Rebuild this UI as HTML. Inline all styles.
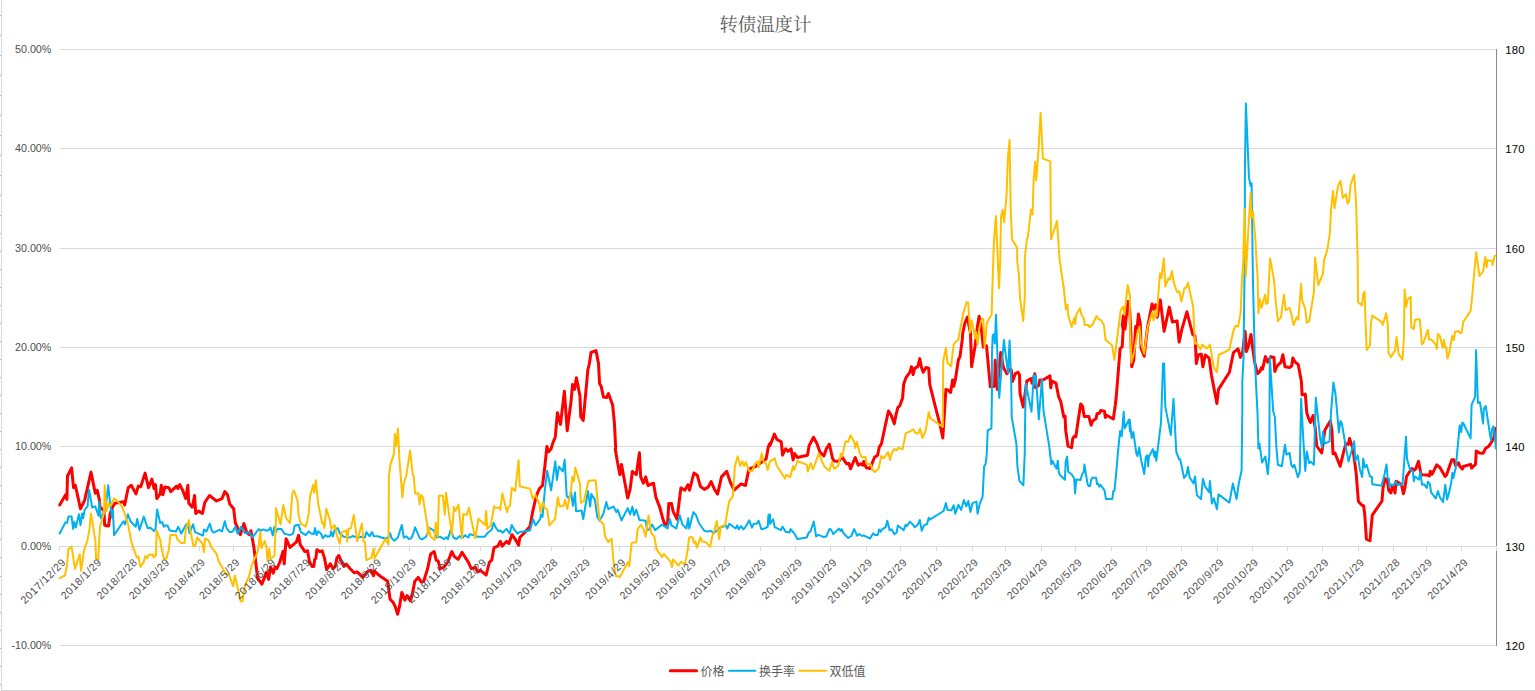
<!DOCTYPE html><html><head><meta charset="utf-8"><title>chart</title><style>
html,body{margin:0;padding:0;background:#fff;}body{width:1535px;height:691px;overflow:hidden;position:relative;font-family:"Liberation Sans",sans-serif;}
svg{position:absolute;left:0;top:0;display:block}text{font-family:"Liberation Sans",sans-serif;}
</style></head><body>
<svg width="1535" height="691" viewBox="0 0 1535 691">
<rect width="1535" height="691" fill="#fff"/>
<g id="edges"><rect x="1" y="0" width="1" height="691" fill="#D6D6DC"/><rect x="0" y="15" width="1" height="1" fill="#B4BCE8"/><rect x="0" y="35" width="1" height="1" fill="#B4BCE8"/><rect x="0" y="55" width="1" height="1" fill="#B4BCE8"/><rect x="0" y="75" width="1" height="1" fill="#B4BCE8"/><rect x="0" y="95" width="1" height="1" fill="#B4BCE8"/><rect x="0" y="115" width="1" height="1" fill="#B4BCE8"/><rect x="0" y="135" width="1" height="1" fill="#B4BCE8"/><rect x="0" y="155" width="1" height="1" fill="#B4BCE8"/><rect x="0" y="175" width="1" height="1" fill="#B4BCE8"/><rect x="0" y="195" width="1" height="1" fill="#B4BCE8"/><rect x="0" y="215" width="1" height="1" fill="#B4BCE8"/><rect x="0" y="233" width="1" height="1" fill="#B4BCE8"/><rect x="0" y="251" width="1" height="1" fill="#B4BCE8"/><rect x="0" y="269" width="1" height="1" fill="#B4BCE8"/><rect x="0" y="287" width="1" height="1" fill="#B4BCE8"/><rect x="0" y="305" width="1" height="1" fill="#B4BCE8"/><rect x="0" y="323" width="1" height="1" fill="#B4BCE8"/><rect x="0" y="341" width="1" height="1" fill="#B4BCE8"/><rect x="0" y="359" width="1" height="1" fill="#B4BCE8"/><rect x="0" y="377" width="1" height="1" fill="#B4BCE8"/><rect x="0" y="395" width="1" height="1" fill="#B4BCE8"/><rect x="0" y="413" width="1" height="1" fill="#B4BCE8"/><rect x="0" y="431" width="1" height="1" fill="#B4BCE8"/><rect x="0" y="449" width="1" height="1" fill="#B4BCE8"/><rect x="0" y="467" width="1" height="1" fill="#B4BCE8"/><rect x="0" y="485" width="1" height="1" fill="#B4BCE8"/><rect x="0" y="503" width="1" height="1" fill="#B4BCE8"/><rect x="0" y="521" width="1" height="1" fill="#B4BCE8"/><rect x="0" y="539" width="1" height="1" fill="#B4BCE8"/><rect x="0" y="557" width="1" height="1" fill="#B4BCE8"/><rect x="0" y="576" width="1" height="1" fill="#B4BCE8"/><rect x="0" y="594" width="1" height="1" fill="#B4BCE8"/><rect x="0" y="612" width="1" height="1" fill="#B4BCE8"/><rect x="0" y="630" width="1" height="1" fill="#B4BCE8"/><rect x="0" y="648" width="1" height="1" fill="#B4BCE8"/><rect x="0" y="666" width="1" height="1" fill="#B4BCE8"/><rect x="0" y="684" width="1" height="1" fill="#B4BCE8"/><rect x="1" y="690" width="1534" height="1" fill="#D4D4D4"/></g>
<g stroke="#D9D9D9" stroke-width="1" fill="none">
<path d="M59.5 49.5H1496.5"/>
<path d="M59.5 148.5H1496.5"/>
<path d="M59.5 248.5H1496.5"/>
<path d="M59.5 347.5H1496.5"/>
<path d="M59.5 446.5H1496.5"/>
<path d="M59.5 546.5H1496.5"/>
<path d="M59.5 645.5H1496.5"/>
<path d="M59.5 546.0v5"/>
<path d="M95.5 546.0v5"/>
<path d="M131.5 546.0v5"/>
<path d="M163.5 546.0v5"/>
<path d="M199.5 546.0v5"/>
<path d="M233.5 546.0v5"/>
<path d="M269.5 546.0v5"/>
<path d="M303.5 546.0v5"/>
<path d="M339.5 546.0v5"/>
<path d="M375.5 546.0v5"/>
<path d="M409.5 546.0v5"/>
<path d="M445.5 546.0v5"/>
<path d="M480.5 546.0v5"/>
<path d="M515.5 546.0v5"/>
<path d="M551.5 546.0v5"/>
<path d="M583.5 546.0v5"/>
<path d="M619.5 546.0v5"/>
<path d="M654.5 546.0v5"/>
<path d="M689.5 546.0v5"/>
<path d="M724.5 546.0v5"/>
<path d="M760.5 546.0v5"/>
<path d="M795.5 546.0v5"/>
<path d="M830.5 546.0v5"/>
<path d="M866.5 546.0v5"/>
<path d="M900.5 546.0v5"/>
<path d="M936.5 546.0v5"/>
<path d="M972.5 546.0v5"/>
<path d="M1005.5 546.0v5"/>
<path d="M1041.5 546.0v5"/>
<path d="M1075.5 546.0v5"/>
<path d="M1111.5 546.0v5"/>
<path d="M1146.5 546.0v5"/>
<path d="M1181.5 546.0v5"/>
<path d="M1217.5 546.0v5"/>
<path d="M1252.5 546.0v5"/>
<path d="M1287.5 546.0v5"/>
<path d="M1322.5 546.0v5"/>
<path d="M1358.5 546.0v5"/>
<path d="M1393.5 546.0v5"/>
<path d="M1426.5 546.0v5"/>
<path d="M1461.5 546.0v5"/>
</g>
<g font-size="10.70" fill="#4d4d4d" text-anchor="end">
<text x="51.3" y="52.7">50.00%</text>
<text x="51.3" y="151.7">40.00%</text>
<text x="51.3" y="251.7">30.00%</text>
<text x="51.3" y="350.7">20.00%</text>
<text x="51.3" y="449.7">10.00%</text>
<text x="51.3" y="549.7">0.00%</text>
<text x="51.3" y="648.7">-10.00%</text>
</g>
<g font-size="11.3" fill="#000" text-anchor="start" letter-spacing="0.3">
<text x="1505.2" y="53.6">180</text>
<text x="1505.2" y="152.6">170</text>
<text x="1505.2" y="252.6">160</text>
<text x="1505.2" y="351.6">150</text>
<text x="1505.2" y="450.6">140</text>
<text x="1505.2" y="550.6">130</text>
<text x="1505.2" y="649.6">120</text>
</g>
<clipPath id="pc"><rect x="57.5" y="40" width="1439.0" height="612"/></clipPath>
<g fill="none" stroke-linejoin="round" stroke-linecap="round" clip-path="url(#pc)">
<path d="M59.7 504.9 L65.6 494.7 L66.9 499.4 L67.5 476.0 L71.6 467.8 L73.5 487.7 L75.3 485.3 L80.5 508.8 L84.7 500.2 L91.0 472.1 L95.3 493.2 L97.2 490.3 L99.3 499.4 L100.0 507.2 L103.9 510.4 L104.7 525.2 L108.6 526.0 L110.2 513.5 L112.5 507.2 L114.9 503.3 L123.5 501.8 L124.7 504.9 L128.2 487.7 L131.3 485.3 L136.0 493.9 L138.3 486.1 L140.7 486.9 L145.1 473.1 L148.5 487.7 L151.9 479.1 L154.0 488.5 L155.5 484.6 L156.8 498.6 L160.2 493.9 L161.3 485.3 L162.9 494.7 L164.9 486.9 L168.8 487.7 L170.7 491.6 L176.6 486.1 L177.9 488.5 L179.8 484.6 L182.9 490.8 L185.7 498.6 L187.9 485.3 L188.8 503.3 L192.3 507.2 L194.6 495.5 L195.7 513.5 L198.5 511.1 L202.4 513.5 L204.8 502.5 L209.5 495.5 L216.5 501.0 L222.0 498.6 L224.8 491.6 L227.5 494.7 L229.8 504.1 L233.7 508.8 L235.3 522.9 L237.6 527.6 L240.4 534.6 L243.9 523.6 L246.7 532.2 L249.3 534.6 L250.9 530.7 L254.0 548.1 L256.1 565.3 L257.6 577.9 L261.9 584.1 L266.5 572.4 L268.6 579.4 L270.5 566.9 L273.3 573.2 L275.1 566.9 L277.0 568.5 L279.8 562.2 L283.0 551.3 L284.2 563.8 L286.1 538.8 L290.0 547.4 L296.3 542.2 L298.6 535.2 L300.2 544.6 L304.9 551.6 L307.5 550.8 L309.5 561.8 L311.9 566.4 L313.8 566.4 L314.7 559.4 L315.8 558.6 L316.9 549.7 L319.7 551.6 L322.1 550.8 L324.4 557.9 L326.7 569.6 L330.3 563.8 L333.0 568.8 L335.3 566.4 L336.9 557.9 L338.8 555.5 L340.8 560.2 L343.9 566.4 L346.3 564.1 L350.2 568.8 L354.1 572.7 L357.2 571.9 L362.7 577.4 L368.2 571.1 L371.3 570.4 L373.6 575.8 L374.4 571.1 L380.7 576.6 L387.7 581.3 L388.8 589.9 L390.1 599.3 L393.2 602.5 L395.5 607.2 L397.6 614.3 L399.4 607.2 L401.8 592.4 L404.9 600.2 L407.0 595.5 L410.4 601.0 L412.7 592.2 L414.8 581.3 L418.2 577.4 L421.3 582.1 L423.7 581.3 L427.6 568.8 L430.7 553.9 L434.2 551.6 L436.2 560.2 L438.2 561.0 L440.1 568.8 L444.0 567.2 L447.9 561.8 L451.8 551.6 L454.2 556.3 L458.1 559.4 L462.0 552.4 L468.2 561.8 L471.4 568.8 L475.3 567.2 L477.6 571.9 L480.4 570.4 L486.2 575.0 L489.3 562.5 L491.7 560.2 L494.0 547.7 L497.9 546.1 L500.3 541.4 L502.3 546.1 L506.5 541.4 L508.9 543.5 L512.0 534.7 L515.1 539.1 L518.6 545.3 L519.8 537.5 L524.5 532.8 L530.0 526.6 L532.8 511.3 L534.7 502.7 L537.0 494.1 L539.4 488.6 L542.5 485.5 L544.9 466.0 L546.9 446.4 L548.4 451.9 L551.1 448.8 L552.7 443.3 L555.3 437.0 L557.4 412.7 L560.5 424.4 L564.4 391.3 L567.2 430.7 L571.0 401.8 L572.5 384.6 L574.6 389.3 L576.4 377.8 L580.0 396.3 L580.8 416.6 L583.2 420.5 L587.9 369.7 L589.4 363.5 L591.0 352.5 L596.0 350.6 L598.5 363.5 L599.6 383.8 L601.1 386.1 L603.5 397.1 L606.6 397.5 L608.5 393.5 L612.6 404.9 L614.4 422.9 L615.7 447.9 L615.2 448.8 L617.6 462.8 L619.9 474.6 L621.5 464.4 L623.8 476.9 L627.7 498.0 L630.1 489.4 L632.4 471.4 L636.3 474.6 L639.4 452.7 L640.7 476.9 L643.4 483.2 L645.7 476.9 L648.0 485.5 L653.5 483.2 L655.9 497.2 L659.8 507.4 L662.9 519.1 L665.2 525.4 L667.6 523.0 L668.8 503.5 L671.5 503.5 L673.1 511.3 L677.0 519.1 L680.9 487.9 L684.8 490.2 L687.9 484.7 L689.5 490.2 L693.9 473.0 L697.3 475.3 L700.4 486.3 L704.3 489.4 L708.2 487.1 L711.1 481.6 L714.5 489.4 L717.6 494.1 L721.5 476.9 L726.7 471.4 L730.1 481.6 L734.0 490.2 L741.1 483.9 L745.5 485.5 L748.9 469.1 L755.1 466.7 L763.0 461.3 L766.1 458.9 L768.4 446.4 L770.0 443.3 L770.0 445.8 L774.4 434.1 L777.0 439.5 L781.3 441.9 L782.5 455.2 L785.6 448.9 L788.0 451.3 L791.1 448.9 L793.1 459.9 L794.7 453.6 L797.4 457.5 L807.5 455.2 L809.1 445.8 L813.5 437.2 L816.9 443.5 L820.0 452.1 L823.9 456.0 L826.3 448.9 L829.4 444.2 L832.5 458.3 L834.1 461.0 L838.8 461.4 L841.9 456.7 L846.6 463.8 L849.0 463.5 L850.5 468.8 L855.2 457.5 L858.3 465.3 L860.7 463.8 L863.0 465.3 L863.8 461.4 L866.2 467.7 L870.1 468.5 L874.4 457.5 L877.6 455.2 L879.4 446.6 L881.3 444.2 L886.5 420.0 L888.5 411.0 L891.2 415.2 L894.3 423.8 L895.9 415.2 L897.9 407.4 L899.8 405.8 L902.6 398.0 L903.7 383.9 L906.0 377.7 L909.9 372.2 L911.5 366.7 L913.1 374.6 L914.6 368.3 L917.8 366.7 L919.8 358.6 L921.3 366.7 L923.2 372.2 L926.0 367.5 L928.7 368.3 L929.8 384.7 L935.7 408.2 L940.4 426.2 L942.8 438.0 L945.9 389.4 L948.2 390.2 L950.6 392.5 L952.6 380.0 L953.7 386.3 L955.3 380.0 L958.4 359.7 L960.0 356.6 L962.3 339.4 L962.7 333.5 L965.0 322.5 L967.4 317.1 L969.0 325.7 L970.5 332.7 L971.6 366.8 L975.2 345.2 L977.6 325.7 L979.1 316.3 L980.7 322.5 L983.3 347.2 L986.5 345.7 L990.3 386.8 L994.5 386.3 L995.2 360.2 L997.3 389.4 L1000.7 352.4 L1003.4 367.5 L1007.0 373.8 L1009.6 369.1 L1011.2 369.6 L1012.5 381.6 L1015.3 373.8 L1017.9 372.2 L1019.5 374.8 L1020.0 393.6 L1023.2 407.0 L1026.8 381.1 L1031.0 378.5 L1032.0 383.2 L1034.8 373.8 L1035.5 387.8 L1038.8 385.2 L1039.8 380.0 L1043.0 380.0 L1050.0 375.9 L1050.8 387.8 L1051.8 381.1 L1056.0 383.2 L1058.6 396.7 L1060.7 401.3 L1063.8 416.9 L1065.1 416.4 L1065.7 430.4 L1068.0 446.1 L1071.6 447.6 L1072.7 438.8 L1074.2 436.2 L1075.8 436.7 L1078.4 419.0 L1080.7 403.9 L1082.6 406.5 L1084.1 416.4 L1088.8 416.4 L1091.1 425.2 L1092.5 421.1 L1096.1 418.5 L1097.0 413.8 L1099.3 413.2 L1100.8 410.6 L1104.5 411.2 L1105.3 417.4 L1106.5 415.3 L1113.3 419.0 L1115.4 404.4 L1116.4 395.0 L1120.1 348.8 L1122.2 346.7 L1123.2 330.0 L1122.3 325.0 L1123.4 315.7 L1125.0 329.0 L1127.8 301.6 L1129.7 309.4 L1130.9 334.4 L1131.7 366.7 L1133.8 359.7 L1135.6 326.6 L1137.2 328.2 L1138.4 314.1 L1140.3 323.5 L1141.1 348.5 L1144.2 356.3 L1147.4 328.2 L1152.1 303.9 L1154.1 309.4 L1155.6 304.7 L1157.2 317.2 L1160.3 300.0 L1164.1 331.3 L1169.3 307.1 L1172.4 321.9 L1177.1 321.1 L1179.1 342.2 L1181.8 329.7 L1186.9 311.8 L1192.7 334.4 L1195.0 336.0 L1195.8 351.6 L1196.3 363.6 L1198.2 355.0 L1201.3 354.2 L1202.9 366.7 L1205.2 355.0 L1209.1 358.1 L1211.5 375.3 L1216.9 403.5 L1218.5 389.4 L1229.4 372.2 L1233.4 352.7 L1238.0 348.8 L1240.4 357.4 L1242.7 351.9 L1245.1 331.3 L1246.3 351.6 L1248.2 346.9 L1251.0 334.4 L1252.9 350.0 L1254.8 362.8 L1257.6 373.8 L1259.9 371.4 L1261.5 367.5 L1262.6 369.1 L1265.4 356.6 L1267.8 362.1 L1270.9 356.6 L1274.0 357.4 L1274.8 371.4 L1277.1 366.0 L1281.0 362.1 L1282.9 354.7 L1285.0 366.7 L1289.6 367.5 L1291.7 366.0 L1292.8 358.1 L1295.1 362.1 L1298.2 364.4 L1301.4 381.6 L1302.1 394.9 L1305.3 394.1 L1306.8 412.9 L1308.4 417.8 L1310.4 422.5 L1313.1 415.5 L1315.1 427.2 L1316.7 446.0 L1321.7 453.0 L1324.8 430.3 L1330.3 420.9 L1331.9 430.3 L1333.0 453.8 L1335.0 453.0 L1340.1 466.3 L1343.6 452.2 L1345.9 443.6 L1348.3 444.4 L1349.5 438.5 L1353.0 449.1 L1356.1 472.5 L1358.4 501.5 L1361.7 505.1 L1363.6 505.7 L1364.8 515.0 L1366.4 539.1 L1370.0 540.7 L1371.1 528.1 L1372.3 515.1 L1382.0 501.0 L1383.0 487.9 L1385.1 478.6 L1387.2 479.6 L1388.8 490.5 L1390.9 492.9 L1392.4 486.4 L1394.0 487.4 L1395.0 493.1 L1396.1 481.2 L1401.3 484.3 L1402.1 487.4 L1403.4 493.7 L1404.9 487.9 L1406.5 476.5 L1408.6 473.3 L1411.7 468.6 L1414.3 470.1 L1415.9 468.6 L1418.5 461.3 L1421.1 474.8 L1427.3 475.0 L1429.4 475.9 L1430.3 471.2 L1432.0 474.3 L1436.7 464.9 L1439.9 467.5 L1445.1 476.4 L1446.6 474.8 L1451.8 459.7 L1453.9 459.7 L1455.5 465.5 L1458.6 462.9 L1459.7 466.0 L1462.3 469.1 L1463.3 466.5 L1470.6 464.4 L1471.6 468.1 L1475.5 464.4 L1476.3 450.9 L1479.5 452.9 L1483.1 453.2 L1485.7 448.3 L1488.8 446.2 L1492.0 441.5 L1494.3 436.3 L1495.1 428.5 L1495.9 436.3" stroke="#FF0000" stroke-width="3"/>
<path d="M59.7 533.5 L65.6 522.1 L67.2 522.9 L68.4 516.6 L71.6 516.6 L73.1 528.8 L74.2 522.1 L75.8 527.6 L78.9 514.3 L80.5 525.2 L82.1 513.5 L83.1 518.2 L84.7 509.6 L87.5 506.4 L89.1 489.7 L92.2 507.5 L95.3 506.4 L98.5 515.8 L99.3 501.8 L100.8 518.2 L103.9 513.5 L106.3 502.5 L108.2 485.3 L110.2 504.1 L112.2 518.2 L112.9 510.4 L114.1 535.1 L123.5 521.3 L125.0 524.4 L127.9 514.3 L130.5 521.3 L135.7 526.8 L137.2 519.0 L139.4 529.9 L143.8 516.6 L147.7 528.3 L150.1 527.6 L154.0 531.0 L155.5 529.1 L157.1 509.6 L160.2 522.9 L162.3 522.1 L163.8 526.8 L165.7 525.2 L167.6 525.7 L169.6 530.4 L175.9 531.5 L178.2 526.8 L181.3 533.5 L185.7 525.2 L187.6 523.6 L189.5 533.0 L193.1 524.4 L195.1 532.2 L202.9 535.7 L204.0 529.4 L206.4 531.5 L209.8 523.6 L211.8 530.7 L213.4 532.6 L219.6 529.9 L222.0 531.5 L224.8 521.3 L226.7 528.3 L229.8 532.2 L232.9 531.5 L235.3 526.8 L237.6 533.8 L241.1 526.8 L244.7 533.0 L249.3 532.2 L252.5 537.3 L258.7 529.1 L261.1 530.7 L263.4 529.4 L266.5 530.7 L268.9 529.9 L270.5 527.6 L272.8 535.4 L274.4 526.8 L275.9 532.2 L277.5 528.8 L281.4 529.1 L284.5 533.8 L290.0 535.1 L293.1 533.6 L294.7 525.8 L298.6 524.7 L300.9 532.1 L305.6 535.2 L308.8 531.3 L311.1 533.6 L313.8 534.1 L315.0 528.1 L316.6 535.2 L318.1 531.3 L321.3 534.1 L322.8 538.3 L325.2 535.2 L327.5 536.7 L330.3 536.0 L331.0 531.3 L333.0 536.3 L334.6 529.7 L337.7 528.1 L340.0 533.6 L343.9 536.7 L350.2 537.5 L352.5 536.0 L357.2 537.5 L361.9 536.7 L365.0 537.5 L366.3 532.1 L369.7 536.3 L372.1 532.1 L373.6 536.0 L377.6 536.3 L383.8 538.3 L387.7 538.3 L390.1 533.1 L391.6 538.3 L394.4 540.7 L397.9 537.5 L401.8 525.0 L403.8 537.5 L406.5 536.3 L408.8 539.1 L411.2 538.3 L412.7 535.2 L415.1 527.4 L419.8 538.3 L422.1 539.4 L426.0 536.7 L429.9 528.1 L433.8 530.5 L437.0 537.5 L440.1 536.7 L444.0 539.1 L446.4 537.2 L447.9 539.1 L451.0 528.9 L453.4 537.5 L456.5 539.1 L459.6 536.0 L462.0 538.3 L465.1 535.2 L468.2 537.5 L469.8 534.1 L473.7 535.2 L477.6 536.7 L484.7 536.7 L487.8 532.8 L491.7 529.7 L493.6 522.7 L495.6 527.4 L498.7 531.3 L500.3 530.5 L502.6 532.8 L506.5 528.9 L509.7 533.6 L511.7 525.0 L514.4 529.7 L517.5 533.6 L519.8 532.1 L530.0 530.5 L533.1 519.1 L535.5 525.4 L540.2 519.1 L540.9 514.4 L542.5 516.8 L544.9 489.4 L547.2 470.7 L551.1 490.2 L555.3 461.3 L556.9 480.0 L558.9 466.7 L562.8 471.4 L564.7 459.7 L566.7 495.7 L568.8 498.8 L571.0 491.8 L573.0 505.8 L575.0 492.5 L576.1 511.3 L581.6 510.5 L583.2 519.1 L587.9 491.0 L590.2 506.6 L591.3 494.1 L594.9 499.6 L597.2 516.8 L599.6 520.7 L603.5 513.6 L606.3 501.9 L608.2 509.0 L613.6 506.6 L616.3 512.1 L617.6 509.7 L621.5 520.4 L627.7 508.2 L630.1 514.4 L632.4 506.6 L634.0 515.2 L636.3 509.7 L639.4 519.9 L645.7 520.7 L647.0 530.1 L649.6 529.3 L652.0 524.6 L655.1 530.1 L662.1 524.6 L667.6 528.5 L669.9 519.1 L671.5 525.4 L676.2 528.5 L679.8 515.2 L682.4 524.6 L686.4 528.5 L688.2 518.3 L689.2 528.5 L693.4 512.1 L696.0 515.2 L698.9 523.0 L704.3 530.8 L707.5 531.6 L710.6 530.8 L713.7 533.2 L720.0 527.7 L723.9 526.2 L725.4 524.6 L727.3 528.5 L729.3 523.8 L735.6 528.5 L737.2 525.4 L738.7 529.3 L741.1 526.2 L743.4 529.3 L745.0 527.7 L749.2 520.4 L752.0 527.7 L753.6 523.8 L756.7 523.8 L758.6 520.7 L761.4 529.3 L764.5 528.5 L767.7 526.9 L768.4 515.2 L770.0 514.4 L770.0 523.9 L773.1 519.3 L774.7 527.1 L780.9 530.2 L782.5 526.6 L785.6 531.8 L789.5 532.5 L790.6 529.1 L794.2 533.3 L797.4 539.1 L806.7 537.5 L808.8 532.5 L810.3 531.8 L813.8 521.6 L816.1 536.4 L818.5 534.9 L823.2 536.9 L826.3 536.4 L829.4 529.1 L831.0 529.4 L833.3 534.1 L838.8 528.6 L840.4 531.0 L841.6 529.1 L843.5 533.3 L848.2 538.0 L851.3 536.0 L854.1 529.1 L857.2 535.7 L859.1 534.1 L862.2 536.0 L863.5 535.4 L870.1 538.5 L873.2 533.3 L874.8 534.9 L877.9 534.9 L879.1 529.4 L880.7 531.8 L881.8 529.7 L885.7 527.1 L887.3 520.8 L889.6 530.2 L891.6 529.4 L894.3 534.1 L896.6 532.5 L897.9 525.5 L903.7 530.2 L905.7 524.7 L906.8 526.3 L909.9 521.6 L913.1 524.7 L914.6 527.1 L917.8 524.7 L919.8 520.0 L921.7 530.7 L924.0 525.5 L927.1 523.9 L928.7 517.7 L929.8 519.7 L943.6 511.0 L945.9 503.1 L947.5 509.9 L951.4 510.3 L953.7 505.2 L955.3 513.8 L958.4 504.7 L961.1 509.9 L963.9 500.0 L966.2 506.3 L968.3 501.0 L970.4 511.9 L972.5 503.1 L976.4 501.6 L977.6 513.8 L979.5 504.7 L982.6 496.6 L984.1 466.5 L985.6 463.9 L986.7 455.0 L987.7 430.4 L991.4 428.4 L991.9 395.0 L991.9 356.1 L992.7 335.2 L994.2 334.2 L994.8 343.5 L996.0 314.7 L997.9 369.0 L999.2 397.8 L1001.3 371.7 L1003.9 339.9 L1006.0 357.1 L1008.0 372.7 L1009.6 340.4 L1011.2 382.1 L1011.7 416.9 L1016.4 444.0 L1017.4 466.5 L1019.5 481.1 L1023.4 485.2 L1024.2 465.4 L1024.7 454.4 L1025.2 415.8 L1025.8 383.7 L1031.5 411.7 L1033.8 374.8 L1035.1 384.2 L1035.9 375.9 L1038.8 419.5 L1041.9 379.5 L1043.5 410.6 L1049.2 446.1 L1051.3 464.3 L1052.3 460.7 L1056.5 468.6 L1057.8 460.7 L1058.8 472.2 L1059.8 474.8 L1064.9 479.8 L1065.7 461.8 L1067.1 456.6 L1068.2 471.7 L1071.6 474.3 L1074.2 478.5 L1075.1 493.4 L1076.3 479.5 L1080.5 480.0 L1082.0 474.3 L1083.6 472.2 L1084.4 464.6 L1085.7 472.7 L1087.6 484.2 L1088.8 486.1 L1090.1 486.1 L1091.1 480.0 L1092.2 477.7 L1096.1 477.7 L1097.0 484.0 L1098.2 483.7 L1099.2 486.8 L1100.5 484.7 L1104.5 490.4 L1106.0 499.0 L1112.3 499.0 L1113.3 491.0 L1114.4 491.0 L1115.9 476.4 L1117.0 463.3 L1118.0 451.3 L1120.1 431.0 L1121.7 436.2 L1123.7 411.7 L1124.8 428.4 L1129.0 419.5 L1130.0 431.5 L1129.7 419.7 L1131.7 438.1 L1133.3 431.9 L1136.4 453.8 L1137.5 456.1 L1139.1 447.5 L1141.1 460.0 L1144.2 474.1 L1145.8 456.9 L1147.4 455.3 L1148.1 466.3 L1148.9 456.9 L1152.8 449.1 L1154.4 456.9 L1155.2 451.4 L1156.3 460.8 L1161.0 422.5 L1161.9 397.2 L1163.0 363.6 L1164.1 363.6 L1165.3 406.6 L1170.8 435.0 L1173.5 398.8 L1176.3 451.9 L1179.1 459.3 L1180.2 459.3 L1184.1 478.0 L1186.4 474.9 L1188.0 467.1 L1189.6 477.2 L1193.5 483.5 L1195.0 476.4 L1196.9 495.2 L1201.0 499.1 L1202.9 478.8 L1205.2 486.6 L1209.1 492.1 L1209.9 481.1 L1211.9 503.5 L1213.8 498.3 L1216.9 509.3 L1218.5 494.4 L1229.4 502.6 L1232.9 483.5 L1236.5 499.1 L1238.8 483.5 L1241.6 470.2 L1242.3 410.0 L1242.3 381.6 L1243.5 357.9 L1244.8 250.0 L1244.9 170.0 L1245.9 103.6 L1249.0 177.9 L1250.6 186.0 L1251.6 183.3 L1252.9 277.9 L1254.8 357.9 L1255.7 376.9 L1257.6 415.2 L1258.4 448.3 L1259.5 443.6 L1262.0 462.4 L1265.4 456.6 L1267.8 474.1 L1269.3 455.3 L1269.8 357.4 L1273.2 411.3 L1274.8 416.8 L1276.4 447.5 L1277.9 464.7 L1281.8 466.3 L1285.0 444.7 L1286.5 454.6 L1289.6 453.0 L1291.2 464.7 L1292.8 467.1 L1294.3 464.7 L1297.9 477.2 L1299.8 471.8 L1301.1 398.8 L1303.2 437.8 L1305.3 471.0 L1306.8 451.4 L1309.2 463.2 L1310.7 461.6 L1313.9 464.7 L1315.8 397.5 L1320.1 437.8 L1322.0 447.5 L1322.9 431.9 L1324.8 443.6 L1329.5 441.3 L1331.1 411.6 L1333.4 382.4 L1335.5 394.1 L1338.9 432.4 L1340.5 420.9 L1342.0 424.1 L1345.9 447.5 L1348.6 461.6 L1354.2 441.3 L1355.3 460.8 L1357.7 455.3 L1360.0 470.2 L1362.2 477.0 L1363.2 458.7 L1364.8 467.5 L1366.7 464.9 L1370.0 476.5 L1371.9 477.0 L1372.3 484.3 L1381.5 485.8 L1384.4 474.9 L1386.5 464.4 L1387.7 478.6 L1388.8 478.6 L1389.8 486.9 L1391.4 484.3 L1392.9 485.3 L1394.0 484.3 L1395.6 481.7 L1397.6 485.3 L1399.2 484.3 L1402.5 484.8 L1403.6 470.2 L1406.0 436.8 L1407.0 458.7 L1410.1 470.1 L1410.7 469.7 L1412.8 471.3 L1413.8 481.2 L1415.0 476.5 L1419.0 479.6 L1420.3 471.8 L1422.1 484.8 L1424.2 484.3 L1426.8 487.9 L1427.9 481.7 L1430.0 484.3 L1431.0 492.1 L1435.7 498.4 L1438.0 491.1 L1439.9 497.3 L1443.0 502.0 L1445.3 484.8 L1447.1 499.4 L1449.2 492.1 L1451.3 482.2 L1452.4 472.8 L1453.4 478.0 L1455.7 468.1 L1459.7 425.3 L1461.2 432.1 L1462.3 422.7 L1463.3 423.2 L1470.6 438.4 L1471.6 404.9 L1475.1 396.6 L1476.1 350.2 L1477.9 402.9 L1480.0 402.3 L1483.1 423.6 L1483.8 408.6 L1485.7 406.0 L1490.9 440.4 L1492.2 428.5 L1493.5 426.4 L1494.6 433.1 L1495.9 448.3" stroke="#00B0F0" stroke-width="2"/>
<path d="M59.7 578.2 L64.9 575.5 L66.9 565.3 L68.4 548.9 L71.6 546.9 L75.0 568.8 L79.7 554.1 L81.0 570.8 L84.1 549.7 L87.5 540.3 L89.4 529.4 L91.0 513.5 L95.3 540.1 L96.1 559.1 L98.2 559.1 L100.0 526.3 L101.6 521.3 L103.9 513.5 L104.7 485.3 L106.6 511.1 L108.6 503.3 L110.7 505.7 L114.1 498.2 L118.8 502.5 L122.2 507.2 L124.7 513.5 L128.2 525.2 L131.3 541.6 L131.3 541.9 L136.8 557.5 L138.3 556.3 L140.4 566.9 L143.8 561.9 L145.1 556.3 L147.3 558.3 L148.5 554.7 L153.2 554.4 L153.5 557.5 L156.0 555.2 L156.6 530.6 L160.2 539.5 L161.3 548.1 L164.1 559.1 L166.5 558.3 L168.8 549.7 L170.4 534.9 L175.9 534.9 L177.4 539.5 L181.3 543.1 L184.5 543.1 L185.7 529.4 L188.8 520.8 L188.8 520.1 L190.7 532.5 L193.5 546.3 L195.4 545.8 L197.0 537.5 L202.4 543.5 L204.0 552.1 L205.1 538.4 L208.7 540.3 L211.0 546.6 L216.5 553.6 L218.5 561.0 L225.9 573.9 L229.0 574.7 L233.2 586.4 L234.8 575.5 L237.6 587.2 L240.7 601.6 L242.6 601.3 L244.7 586.4 L249.3 575.5 L251.7 565.3 L257.9 551.3 L260.3 531.7 L261.4 548.1 L264.5 541.1 L266.5 547.4 L267.6 560.7 L269.2 548.9 L270.5 558.8 L274.4 556.0 L275.9 521.6 L275.9 508.0 L280.6 524.4 L283.3 504.9 L286.1 518.2 L290.0 522.9 L292.3 493.5 L293.9 490.4 L297.5 500.5 L298.6 515.4 L300.9 524.0 L301.7 524.2 L305.6 526.6 L307.2 521.9 L308.8 512.2 L310.0 496.6 L313.1 484.9 L314.2 492.7 L315.8 480.2 L318.1 502.9 L322.1 523.2 L323.1 522.4 L324.4 527.9 L326.3 508.8 L329.9 520.1 L331.0 527.9 L331.4 528.9 L334.6 525.0 L336.9 535.2 L339.7 543.8 L341.6 532.1 L346.3 530.5 L347.1 541.4 L348.6 528.9 L351.0 528.1 L353.8 514.9 L357.2 541.4 L361.9 523.5 L363.5 541.4 L365.0 542.2 L366.3 560.2 L371.3 557.9 L373.6 548.5 L374.4 558.6 L385.4 539.1 L388.5 544.6 L388.8 500.0 L388.8 477.1 L390.4 464.6 L394.0 453.6 L394.8 434.1 L396.3 445.8 L397.9 428.6 L399.4 459.1 L402.3 497.4 L403.8 483.3 L406.5 474.7 L410.1 450.5 L412.7 474.7 L413.8 476.6 L415.1 493.5 L418.5 493.2 L419.5 504.4 L421.3 495.0 L422.9 497.4 L426.0 516.9 L427.6 527.9 L427.6 535.2 L428.4 526.6 L430.7 536.7 L434.6 539.9 L435.7 522.7 L437.8 536.7 L438.8 500.0 L438.8 495.8 L442.9 495.8 L444.8 514.6 L446.0 492.7 L447.9 506.0 L451.0 527.9 L451.8 535.2 L453.9 507.0 L455.4 510.9 L458.5 504.7 L462.0 538.3 L463.2 514.1 L466.7 514.9 L469.0 507.8 L471.4 520.3 L475.3 538.3 L478.4 518.8 L485.1 525.0 L486.2 510.9 L487.3 528.9 L490.9 525.0 L494.0 506.3 L495.6 507.9 L499.5 507.6 L500.3 509.9 L502.3 493.5 L507.0 512.2 L508.1 507.6 L510.1 505.7 L511.7 488.0 L515.1 491.1 L518.6 460.3 L519.8 486.4 L530.0 488.8 L530.0 488.6 L532.8 498.8 L535.5 494.9 L539.4 504.3 L540.6 512.1 L542.8 501.9 L544.9 508.2 L547.2 509.7 L549.5 525.4 L555.0 519.1 L557.8 497.2 L559.7 506.6 L563.6 505.8 L565.2 499.6 L567.2 509.0 L571.0 490.2 L572.2 476.9 L573.8 481.6 L575.3 467.5 L580.0 483.9 L580.8 502.7 L583.9 501.1 L588.6 480.8 L595.7 480.3 L597.2 497.2 L599.6 520.3 L603.5 524.2 L605.0 536.0 L608.2 541.9 L611.6 538.8 L613.6 562.5 L615.7 575.8 L619.9 576.9 L628.2 561.8 L629.3 566.4 L631.6 543.0 L636.3 542.2 L637.6 528.9 L641.0 525.0 L643.4 528.9 L645.7 536.7 L648.5 515.6 L651.2 532.8 L654.3 536.7 L656.6 549.3 L662.1 557.1 L663.7 553.9 L670.7 561.8 L672.0 567.2 L673.1 559.4 L678.5 565.7 L680.9 561.8 L684.8 564.1 L687.1 553.9 L689.2 537.2 L692.6 537.2 L693.9 543.0 L695.4 541.4 L697.0 547.7 L700.4 537.2 L702.0 541.4 L705.9 542.2 L710.1 546.9 L712.1 536.7 L713.7 532.8 L716.8 521.1 L719.2 539.1 L720.7 526.6 L725.1 525.0 L727.3 511.3 L729.3 501.1 L732.9 496.4 L734.8 466.7 L737.6 456.3 L740.3 466.0 L742.3 461.3 L744.2 466.0 L745.8 462.1 L748.9 470.7 L752.0 471.4 L755.1 463.6 L757.5 461.3 L758.6 467.5 L761.7 453.5 L763.7 462.1 L766.1 463.6 L767.7 469.9 L770.0 461.3 L774.7 458.3 L776.6 465.3 L781.7 473.2 L784.9 478.6 L786.4 474.7 L790.3 477.1 L793.1 466.1 L794.2 470.0 L797.4 461.0 L806.7 464.6 L807.8 471.6 L810.7 463.0 L813.0 469.3 L818.8 453.6 L821.6 460.7 L824.7 466.9 L829.4 470.8 L831.8 462.2 L834.1 468.8 L838.0 466.1 L841.1 453.6 L841.9 456.7 L845.8 441.1 L848.2 441.9 L850.5 435.3 L854.4 442.7 L855.2 448.1 L856.8 441.9 L859.9 453.6 L862.2 457.5 L865.4 456.7 L866.6 463.8 L870.8 464.6 L872.4 470.0 L874.8 471.9 L878.7 468.5 L881.3 456.0 L883.8 458.3 L888.0 452.1 L890.1 459.9 L891.6 453.6 L894.3 448.9 L896.6 450.5 L898.2 447.8 L902.6 449.4 L905.7 433.3 L909.9 431.3 L913.5 429.4 L915.4 433.3 L918.5 433.3 L920.1 428.6 L922.4 438.0 L925.6 430.9 L928.7 412.1 L930.3 418.3 L942.8 426.9 L943.2 361.3 L945.9 348.0 L947.5 362.8 L951.1 366.3 L953.7 344.1 L958.4 339.4 L961.1 324.1 L963.2 313.2 L966.6 302.2 L968.2 302.5 L970.1 332.7 L971.6 320.2 L975.2 338.2 L976.0 331.9 L977.6 344.4 L979.1 328.8 L981.5 319.4 L983.3 318.6 L984.6 347.6 L986.9 322.5 L991.6 314.7 L992.9 270.9 L994.0 240.2 L995.9 216.0 L999.0 288.2 L1000.2 261.3 L1001.0 217.5 L1002.6 209.7 L1004.1 222.2 L1006.5 195.6 L1008.0 156.3 L1009.6 139.9 L1010.7 208.9 L1012.0 239.4 L1017.0 247.5 L1017.4 262.9 L1019.0 275.4 L1020.1 299.1 L1023.2 321.0 L1024.8 296.7 L1024.8 258.2 L1026.8 240.2 L1027.9 236.3 L1031.0 209.7 L1032.6 214.4 L1033.5 181.6 L1035.1 161.8 L1036.2 180.5 L1038.5 150.0 L1040.6 112.8 L1042.9 158.6 L1050.3 161.4 L1051.0 239.4 L1057.0 221.0 L1059.6 259.7 L1063.6 287.9 L1063.6 285.8 L1065.9 309.3 L1067.5 304.6 L1068.2 315.5 L1071.7 326.9 L1074.2 317.9 L1075.3 324.1 L1076.1 314.7 L1080.0 308.2 L1081.5 314.7 L1083.9 318.6 L1084.7 324.9 L1088.3 324.9 L1089.3 327.2 L1092.5 324.9 L1096.4 316.0 L1098.7 319.4 L1101.1 320.2 L1103.9 324.9 L1105.5 339.7 L1112.0 345.2 L1114.4 359.8 L1120.6 310.8 L1123.0 306.6 L1124.5 314.7 L1127.7 285.0 L1130.0 296.0 L1129.7 312.5 L1131.3 362.8 L1134.1 351.9 L1137.2 334.4 L1139.5 326.6 L1141.1 343.8 L1144.2 354.0 L1147.4 328.2 L1152.1 312.5 L1153.6 320.4 L1155.2 310.2 L1156.7 316.4 L1159.9 273.5 L1161.4 278.1 L1163.8 258.6 L1165.3 286.7 L1168.5 278.1 L1170.0 279.7 L1171.9 271.1 L1173.9 282.8 L1177.1 292.2 L1179.4 291.4 L1181.3 301.6 L1184.4 288.3 L1186.4 287.5 L1188.0 282.8 L1193.2 307.1 L1195.0 343.8 L1196.6 343.0 L1200.5 349.3 L1202.1 344.6 L1206.8 348.5 L1209.9 344.6 L1212.2 357.8 L1213.8 367.5 L1216.9 372.2 L1218.8 355.0 L1229.4 349.5 L1233.4 330.5 L1235.7 325.8 L1238.0 326.6 L1240.7 312.5 L1242.0 278.1 L1243.2 262.2 L1244.6 208.8 L1245.9 276.3 L1248.2 232.5 L1250.6 192.7 L1251.3 216.9 L1252.9 211.4 L1255.2 237.2 L1257.6 277.9 L1258.4 313.3 L1259.9 299.3 L1261.5 307.9 L1265.1 294.6 L1266.2 303.9 L1267.8 303.2 L1270.1 258.6 L1274.0 279.7 L1275.6 300.0 L1277.9 321.1 L1281.0 317.2 L1283.9 294.6 L1285.7 310.2 L1289.6 307.9 L1291.2 313.3 L1293.6 325.0 L1296.7 317.2 L1298.2 319.6 L1301.1 284.1 L1302.1 300.0 L1305.3 309.4 L1306.8 322.7 L1309.2 321.1 L1313.9 292.2 L1315.1 257.5 L1318.3 285.2 L1321.7 276.6 L1322.9 274.2 L1324.0 260.2 L1327.2 250.1 L1329.8 234.1 L1331.1 208.3 L1333.0 191.1 L1334.5 208.3 L1338.1 185.6 L1340.5 180.9 L1342.8 197.8 L1345.9 194.2 L1347.5 203.6 L1349.1 201.3 L1350.6 184.9 L1354.2 174.7 L1356.1 202.8 L1356.9 233.3 L1357.7 259.9 L1358.0 302.0 L1361.9 305.5 L1363.2 294.2 L1364.6 291.6 L1365.3 315.6 L1366.7 350.0 L1370.0 345.3 L1370.9 323.5 L1372.3 315.6 L1381.5 321.9 L1382.7 325.0 L1386.2 313.3 L1387.7 324.5 L1388.6 353.2 L1390.9 357.1 L1395.0 350.6 L1396.6 337.0 L1398.7 354.2 L1402.5 359.6 L1403.9 337.5 L1404.6 289.5 L1406.3 306.7 L1407.5 299.9 L1410.7 296.8 L1411.2 327.3 L1413.8 329.2 L1415.0 319.8 L1419.8 319.3 L1421.9 344.3 L1423.4 342.7 L1427.9 329.7 L1428.9 339.6 L1431.5 339.6 L1435.2 343.8 L1436.9 349.0 L1437.8 333.9 L1439.9 336.0 L1442.8 347.9 L1443.8 340.1 L1445.3 347.9 L1446.3 347.4 L1447.4 358.6 L1449.2 353.2 L1452.2 336.0 L1453.9 340.1 L1455.0 331.8 L1458.6 331.1 L1459.7 332.8 L1461.5 333.1 L1463.3 321.9 L1470.6 310.9 L1471.6 302.5 L1476.1 252.3 L1479.5 276.0 L1483.1 271.3 L1485.2 256.9 L1486.6 267.1 L1487.3 260.3 L1492.0 260.8 L1492.5 265.0 L1494.6 256.2 L1495.6 255.6" stroke="#FFC000" stroke-width="2"/>
</g>
<path d="M1496.5 49.0V646.0" stroke="#8A8A8A" stroke-width="1" fill="none"/>
<path d="M1496.5 546.0v5" stroke="#D9D9D9" stroke-width="1" fill="none"/>
<g font-size="10.70" fill="#4d4d4d" text-anchor="end" letter-spacing="0.55">
<text transform="translate(66.7 562.9) rotate(-45)" x="0" y="0">2017/12/29</text>
<text transform="translate(102.4 562.9) rotate(-45)" x="0" y="0">2018/1/29</text>
<text transform="translate(138.1 562.9) rotate(-45)" x="0" y="0">2018/2/28</text>
<text transform="translate(170.4 562.9) rotate(-45)" x="0" y="0">2018/3/29</text>
<text transform="translate(206.1 562.9) rotate(-45)" x="0" y="0">2018/4/29</text>
<text transform="translate(240.7 562.9) rotate(-45)" x="0" y="0">2018/5/29</text>
<text transform="translate(276.4 562.9) rotate(-45)" x="0" y="0">2018/6/29</text>
<text transform="translate(311.0 562.9) rotate(-45)" x="0" y="0">2018/7/29</text>
<text transform="translate(346.7 562.9) rotate(-45)" x="0" y="0">2018/8/29</text>
<text transform="translate(382.4 562.9) rotate(-45)" x="0" y="0">2018/9/29</text>
<text transform="translate(417.0 562.9) rotate(-45)" x="0" y="0">2018/10/29</text>
<text transform="translate(452.7 562.9) rotate(-45)" x="0" y="0">2018/11/29</text>
<text transform="translate(487.3 562.9) rotate(-45)" x="0" y="0">2018/12/29</text>
<text transform="translate(523.0 562.9) rotate(-45)" x="0" y="0">2019/1/29</text>
<text transform="translate(558.7 562.9) rotate(-45)" x="0" y="0">2019/2/28</text>
<text transform="translate(591.0 562.9) rotate(-45)" x="0" y="0">2019/3/29</text>
<text transform="translate(626.7 562.9) rotate(-45)" x="0" y="0">2019/4/29</text>
<text transform="translate(661.2 562.9) rotate(-45)" x="0" y="0">2019/5/29</text>
<text transform="translate(697.0 562.9) rotate(-45)" x="0" y="0">2019/6/29</text>
<text transform="translate(731.5 562.9) rotate(-45)" x="0" y="0">2019/7/29</text>
<text transform="translate(767.2 562.9) rotate(-45)" x="0" y="0">2019/8/29</text>
<text transform="translate(803.0 562.9) rotate(-45)" x="0" y="0">2019/9/29</text>
<text transform="translate(837.5 562.9) rotate(-45)" x="0" y="0">2019/10/29</text>
<text transform="translate(873.2 562.9) rotate(-45)" x="0" y="0">2019/11/29</text>
<text transform="translate(907.8 562.9) rotate(-45)" x="0" y="0">2019/12/29</text>
<text transform="translate(943.5 562.9) rotate(-45)" x="0" y="0">2020/1/29</text>
<text transform="translate(979.2 562.9) rotate(-45)" x="0" y="0">2020/2/29</text>
<text transform="translate(1012.7 562.9) rotate(-45)" x="0" y="0">2020/3/29</text>
<text transform="translate(1048.4 562.9) rotate(-45)" x="0" y="0">2020/4/29</text>
<text transform="translate(1082.9 562.9) rotate(-45)" x="0" y="0">2020/5/29</text>
<text transform="translate(1118.7 562.9) rotate(-45)" x="0" y="0">2020/6/29</text>
<text transform="translate(1153.2 562.9) rotate(-45)" x="0" y="0">2020/7/29</text>
<text transform="translate(1188.9 562.9) rotate(-45)" x="0" y="0">2020/8/29</text>
<text transform="translate(1224.7 562.9) rotate(-45)" x="0" y="0">2020/9/29</text>
<text transform="translate(1259.2 562.9) rotate(-45)" x="0" y="0">2020/10/29</text>
<text transform="translate(1294.9 562.9) rotate(-45)" x="0" y="0">2020/11/29</text>
<text transform="translate(1329.5 562.9) rotate(-45)" x="0" y="0">2020/12/29</text>
<text transform="translate(1365.2 562.9) rotate(-45)" x="0" y="0">2021/1/29</text>
<text transform="translate(1400.9 562.9) rotate(-45)" x="0" y="0">2021/2/28</text>
<text transform="translate(1433.2 562.9) rotate(-45)" x="0" y="0">2021/3/29</text>
<text transform="translate(1468.9 562.9) rotate(-45)" x="0" y="0">2021/4/29</text>
</g>
<text x="765.4" y="30.7" font-size="18.4" fill="#595959" text-anchor="middle" style="font-family:'Liberation Serif','Noto Serif CJK SC',serif">转债温度计</text>
<g fill="none" stroke-linecap="round">
<path d="M670.3 670.7H696.5" stroke="#FF0000" stroke-width="3"/>
<path d="M728.9 670.7H755.4" stroke="#00B0F0" stroke-width="2"/>
<path d="M799.3 670.7H826" stroke="#FFC000" stroke-width="2"/>
</g>
<g font-size="12" fill="#595959" text-anchor="start" style="font-family:'Liberation Sans','Noto Sans CJK SC',sans-serif">
<text x="700.6" y="675.8" style="font-family:'Liberation Sans','Noto Sans CJK SC',sans-serif">价格</text>
<text x="759.1" y="675.8" style="font-family:'Liberation Sans','Noto Sans CJK SC',sans-serif">换手率</text>
<text x="829.5" y="675.8" style="font-family:'Liberation Sans','Noto Sans CJK SC',sans-serif">双低值</text>
</g>
</svg></body></html>
